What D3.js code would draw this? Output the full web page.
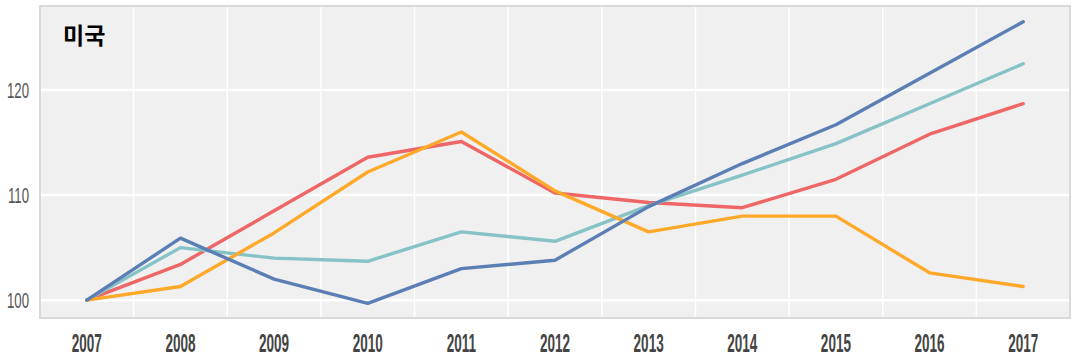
<!DOCTYPE html>
<html>
<head>
<meta charset="utf-8">
<script src="https://cdn.jsdelivr.net/npm/d3@7"></script>
<style>
html,body{margin:0;padding:0;background:#fff;}
svg{display:block;}
</style>
</head>
<body>
<svg id="chart" width="1079" height="358"></svg>
<script>
const years = ["2007","2008","2009","2010","2011","2012","2013","2014","2015","2016","2017"];
const yTicks = [100, 110, 120];
const title = "미국";
const redValues    = [100, 103.4, 108.5, 113.6, 115.1, 110.2, 109.3, 108.8, 111.5, 115.8, 118.7];
const tealValues   = [100, 105.0, 104.0, 103.7, 106.5, 105.6, 109.0, 111.9, 114.9, 118.7, 122.5];
const orangeValues = [100, 101.3, 106.4, 112.2, 116.0, 110.4, 106.5, 108.0, 108.0, 102.6, 101.3];
const blueValues   = [100, 105.9, 102.0, 99.7, 103.0, 103.8, 108.9, 113.0, 116.7, 121.6, 126.5];
const seriesValues = [redValues, tealValues, orangeValues, blueValues];
const colors = ["#ef6666", "#86c2c6", "#ffa92b", "#5b7fb5"];

const svg = d3.select("#chart");
const L = 40, R = 1070, T = 6, B = 318;

const x = d3.scalePoint().domain(years).range([L, R]).padding(0.5);
const xb = d3.scaleBand().domain(years).range([L, R]);
const y = d3.scaleLinear().domain([98.3, 128]).range([B, T]);

svg.append("rect").attr("x", L).attr("y", T).attr("width", R - L).attr("height", B - T)
  .attr("fill", "#f0f0f0");

svg.append("g").selectAll("line").data(years.slice(1)).join("line")
  .attr("x1", d => xb(d)).attr("x2", d => xb(d))
  .attr("y1", T).attr("y2", B)
  .attr("stroke", "#ffffff").attr("stroke-width", 1.5);

svg.append("g").selectAll("line").data(yTicks).join("line")
  .attr("x1", L).attr("x2", R)
  .attr("y1", d => y(d)).attr("y2", d => y(d))
  .attr("stroke", "#ffffff").attr("stroke-width", 2.5);

svg.append("rect").attr("x", L).attr("y", T).attr("width", R - L).attr("height", B - T)
  .attr("fill", "none").attr("stroke", "#d9d9d9").attr("stroke-width", 2);

const line = d3.line().x((d, i) => x(years[i])).y(d => y(d));
svg.append("g").selectAll("path").data(seriesValues).join("path")
  .attr("d", d => line(d))
  .attr("fill", "none")
  .attr("stroke", (d, i) => colors[i])
  .attr("stroke-width", 3.4)
  .attr("stroke-linejoin", "round")
  .attr("stroke-linecap", "round");

// y axis labels
const yAxis = d3.axisLeft(y).tickValues(yTicks).tickSize(0).tickPadding(0);
const yg = svg.append("g").attr("transform", `translate(${L - 11},0)`).call(yAxis);
yg.select(".domain").remove();
yg.selectAll(".tick").each(function(d){
  d3.select(this).attr("transform", `translate(0,${y(d)}) scale(0.6,1)`);
});
yg.selectAll("text")
  .attr("font-family", "'Liberation Sans', Arial, sans-serif")
  .attr("font-size", 22)
  .attr("fill", "#555")
  .attr("dy", "0.35em")
  .attr("x", 0);

// x axis labels
const xAxis = d3.axisBottom(x).tickSize(0).tickPadding(0);
const xg = svg.append("g").attr("transform", `translate(0,${B})`).call(xAxis);
xg.select(".domain").remove();
xg.selectAll(".tick").each(function(d){
  d3.select(this).attr("transform", `translate(${x(d)},0) scale(0.52,1)`);
});
xg.selectAll("text")
  .attr("font-family", "'Liberation Sans', Arial, sans-serif")
  .attr("font-weight", "bold")
  .attr("font-size", 26)
  .attr("fill", "#444")
  .attr("y", 34)
  .attr("dy", 0);

svg.append("text").attr("x", 63).attr("y", 44)
  .attr("font-family", "'Noto Sans CJK KR', sans-serif")
  .attr("font-weight", "bold")
  .attr("font-size", 23)
  .attr("fill", "#000")
  .text(title);
</script>
</body>
</html>
